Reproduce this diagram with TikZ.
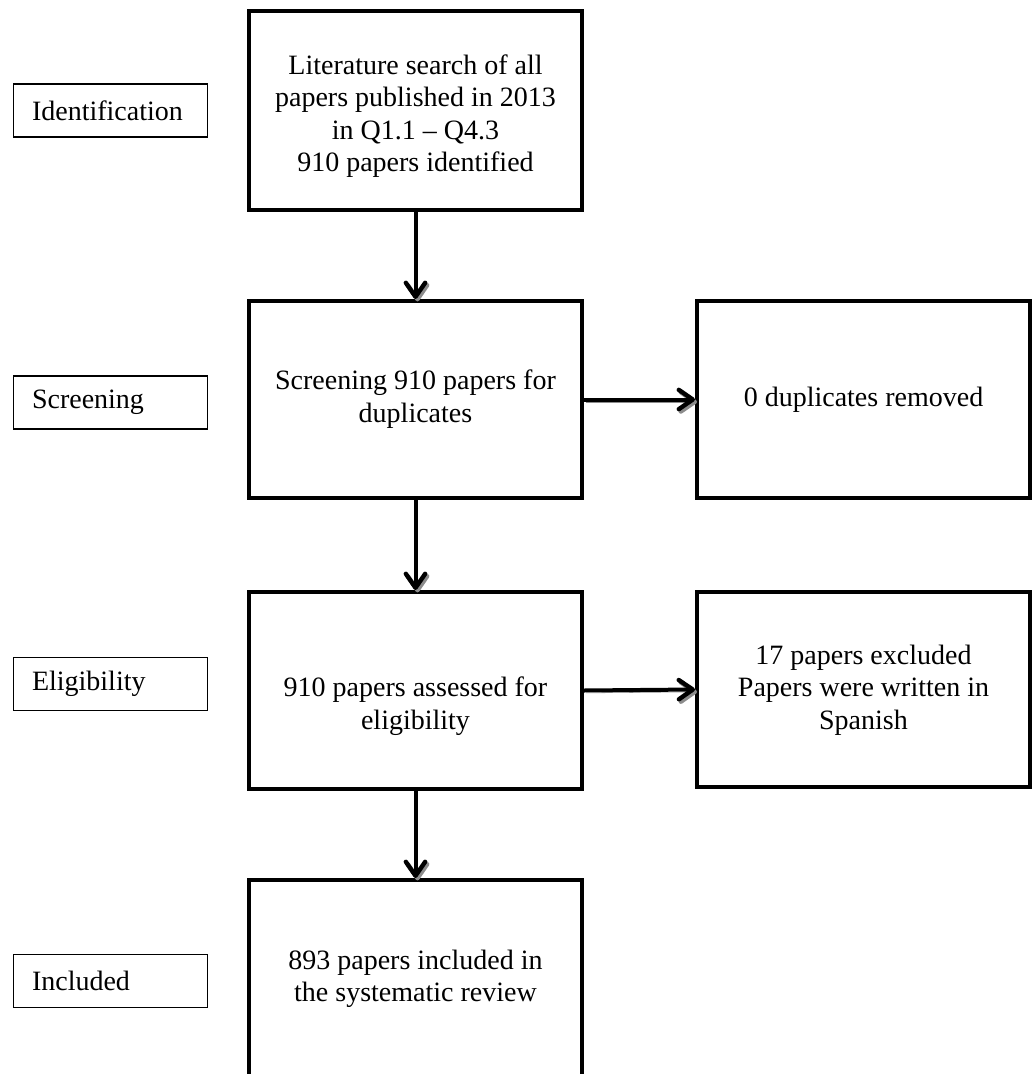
\documentclass[tikz,border=0pt]{standalone}
\usepackage{fontspec}
\setmainfont{Liberation Serif}
\usetikzlibrary{arrows.meta}
\begin{document}
\begin{tikzpicture}[x=0.75pt,y=-0.75pt,
  every node/.style={font=\fontsize{21}{24.4}\selectfont},
  mainbox/.style={draw, line width=3pt, minimum width=249.75pt, inner sep=0pt},
  labelbox/.style={draw, line width=0.8pt, minimum height=39.75pt, inner xsep=13.9pt, inner ysep=0pt, text width=117.75pt, align=left},
  txt/.style={align=center, inner sep=0pt},
  arr/.style={line width=3pt, -{Straight Barb[length=10.5pt,width=14.5pt,line width=3.3pt,line cap=round,line join=round]},
    preaction={draw=black!45, transform canvas={shift={(1.5pt,-1.8pt)}}}}
]
\useasboundingbox (0,0) rectangle (1034,1074);

% stage labels
\node[labelbox] (lid) at (110.5,110.5) {Identification};
\node[labelbox] (lsc) at (110.5,402.5) {Screening};
\node[labelbox] (lel) at (110.5,684) {Eligibility};
\node[labelbox] (lin) at (110.5,981) {Included};

% main boxes
\node[mainbox, minimum height=149.25pt] (b1) at (415.5,110.5) {};
\node[mainbox, minimum height=147.75pt] (b2) at (415.5,399.5) {};
\node[mainbox, minimum height=147.75pt] (b3) at (415.5,690.5) {};
\begin{scope}
\clip (0,0) rectangle (1034,1074);
\node[mainbox, minimum height=150pt] (b4) at (415.5,980) {};
\end{scope}

% right boxes
\node[mainbox, minimum height=147.75pt] (r1) at (863.5,399.5) {};
\node[mainbox, minimum height=146.25pt] (r2) at (863.5,689.5) {};

% texts
\node[txt] (t1) at (415.5,116) {Literature search of all\\papers published in 2013\\in Q1.1 \textendash{} Q4.3\\910 papers identified};
\node[txt] (t2) at (415.5,399) {Screening 910 papers for\\duplicates};
\node[txt] (t3) at (415.5,706) {910 papers assessed for\\eligibility};
\node[txt] (t4) at (415.5,979) {893 papers included in\\the systematic review};
\node[txt] (t5) at (863.5,400) {0 duplicates removed};
\node[txt] (t6) at (863.5,690) {17 papers excluded\\Papers were written in\\Spanish};

% arrows
\draw[arr] (b1.south) -- (b2.north);
\draw[arr] (b2.south) -- (b3.north);
\draw[arr] (b3.south) -- (b4.north);
\draw[arr] (b2.east) -- (r1.west);
\draw[arr] (b3.east) -- (r2.west);
\end{tikzpicture}
\end{document}
